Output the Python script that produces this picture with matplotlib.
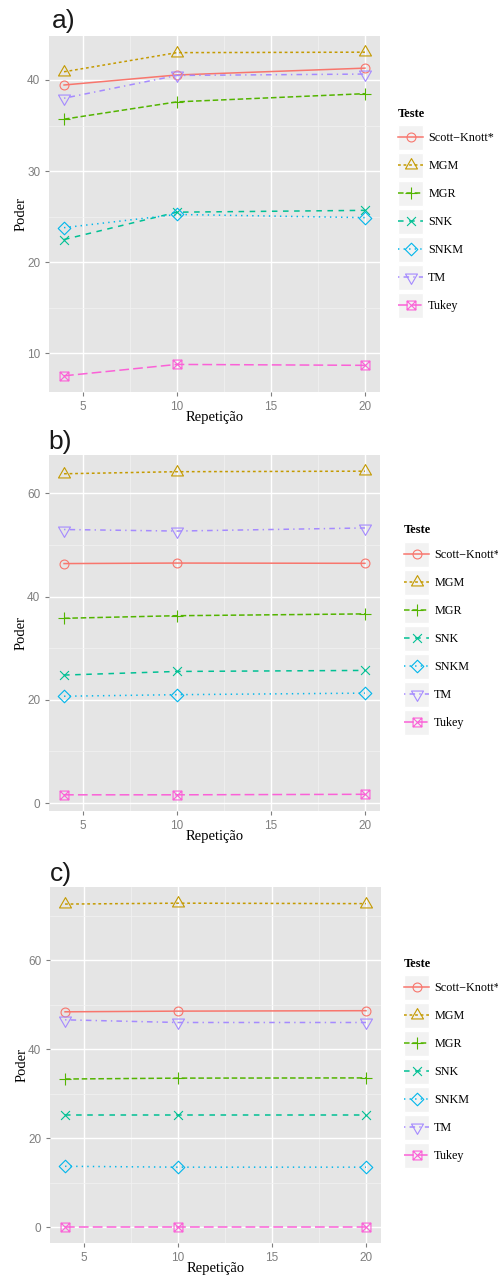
import numpy as np
import matplotlib
matplotlib.use('Agg')
import matplotlib.pyplot as plt
from matplotlib.lines import Line2D
from matplotlib.patches import Rectangle
from matplotlib.path import Path
from matplotlib.legend_handler import HandlerBase
from matplotlib.ticker import MultipleLocator

plt.rcParams['lines.scale_dashes'] = False

# dados
repeticao = [4, 10, 20]
testes = ['Scott−Knott*', 'MGM', 'MGR', 'SNK', 'SNKM', 'TM', 'Tukey']
paineis = ['a)', 'b)', 'c)']

# poder por teste, mesma ordem de "testes"
poder_a = [
    [39.45, 40.55, 41.3],
    [40.9, 43.0, 43.05],
    [35.7, 37.6, 38.5],
    [22.5, 25.5, 25.7],
    [23.8, 25.25, 24.9],
    [38.0, 40.5, 40.65],
    [7.55, 8.8, 8.7],
]
poder_b = [
    [46.4, 46.5, 46.45],
    [63.8, 64.2, 64.3],
    [35.8, 36.3, 36.65],
    [24.8, 25.5, 25.7],
    [20.7, 21.0, 21.3],
    [53.0, 52.7, 53.3],
    [1.6, 1.6, 1.7],
]
poder_c = [
    [48.4, 48.55, 48.65],
    [72.6, 72.8, 72.7],
    [33.3, 33.5, 33.55],
    [25.3, 25.3, 25.3],
    [13.7, 13.5, 13.5],
    [46.6, 46.0, 46.0],
    [0.1, 0.1, 0.1],
]
passo_y = [10, 20, 20]

# estilo ggplot
cores = ['#F8766D', '#C49A00', '#53B400', '#00C094', '#00B6EB', '#A58AFF', '#FB61D7']
tracos = ['-', (0, (2, 2)), (0, (4, 2)), (0, (4, 4)), (0, (1, 3)), (0, (1, 3, 4, 3)), (0, (7, 3))]

M, L, C = Path.MOVETO, Path.LINETO, Path.CLOSEPOLY
s2 = np.sqrt(2)
t0 = np.sqrt(4 * np.pi / (3 * np.sqrt(3)))
tri_up = Path([(0, t0), (-t0 * 0.866, -t0 / 2), (t0 * 0.866, -t0 / 2), (0, t0)], [M, L, L, C])
tri_dn = Path([(0, -t0), (-t0 * 0.866, t0 / 2), (t0 * 0.866, t0 / 2), (0, -t0)], [M, L, L, C])
plus = Path([(-s2, 0), (s2, 0), (0, -s2), (0, s2)], [M, L, M, L])
cruz = Path([(-1, -1), (1, 1), (-1, 1), (1, -1)], [M, L, M, L])
losango = Path([(-s2, 0), (0, s2), (s2, 0), (0, -s2), (-s2, 0)], [M, L, L, L, C])
caixa = Path([(-1, -1), (1, -1), (1, 1), (-1, 1), (-1, -1), (-1, -1), (1, 1), (-1, 1), (1, -1)],
             [M, L, L, L, C, M, L, M, L])
marcas = ['o', tri_up, plus, cruz, losango, tri_dn, caixa]
raio = 3.2
tamanhos = [2 * raio] + [2 * raio * np.abs(p.vertices).max() for p in marcas[1:]]


class ChaveGG(HandlerBase):
    # chave da legenda com fundo cinza como no ggplot
    def create_artists(self, legend, orig, xdescent, ydescent, width, height, fontsize, trans):
        yc = 0.33 * fontsize
        x0 = -xdescent
        box = Rectangle((x0, yc - width / 2), width, width, facecolor='#F2F2F2',
                        edgecolor='white', lw=1.0, transform=trans)
        linha = Line2D([x0, x0 + width], [yc, yc])
        linha.update_from(orig)
        linha.set_marker('none')
        ponto = Line2D([x0 + width / 2], [yc])
        ponto.update_from(orig)
        ponto.set_linestyle('none')
        for a in (linha, ponto):
            a.set_clip_box(None)
            a.set_clip_path(None)
            a.set_transform(trans)
        return [box, linha, ponto]


W, H = 498, 1280
fig = plt.figure(figsize=(W / 100, H / 100), dpi=100)

caixas = [(49, 36, 380, 392), (49, 455, 380, 811), (50, 887, 381, 1243)]
legendas = [(398, 222, 117), (404, 639, 533), (404, 1072, 967)]
rotulos = [(52, 28), (48, 449), (50, 881)]

serif = ['Liberation Serif', 'DejaVu Serif']
sans = ['Liberation Sans', 'DejaVu Sans']

for k, dados in enumerate([poder_a, poder_b, poder_c]):
    l, t, r, b = caixas[k]
    ax = fig.add_axes([l / W, 1 - b / H, (r - l) / W, (b - t) / H])
    ax.set_facecolor('#E5E5E5')
    for s in ax.spines.values():
        s.set_visible(False)

    handles = []
    for i, nome in enumerate(testes):
        h, = ax.plot(repeticao, dados[i], color=cores[i], linestyle=tracos[i], lw=1.1,
                     marker=marcas[i], markersize=tamanhos[i], markerfacecolor='none',
                     markeredgecolor=cores[i], markeredgewidth=0.8, label=nome, zorder=3)
        handles.append(h)

    # escalas com expansao de 5% como no ggplot
    xs = np.array(repeticao, dtype=float)
    dx = (xs.max() - xs.min()) * 0.05
    ax.set_xlim(xs.min() - dx, xs.max() + dx)
    ys = np.array(dados, dtype=float)
    dy = (ys.max() - ys.min()) * 0.05
    ax.set_ylim(ys.min() - dy, ys.max() + dy)

    ax.xaxis.set_major_locator(MultipleLocator(5))
    ax.xaxis.set_minor_locator(MultipleLocator(2.5))
    ax.yaxis.set_major_locator(MultipleLocator(passo_y[k]))
    ax.yaxis.set_minor_locator(MultipleLocator(passo_y[k] / 2))
    ax.grid(which='major', color='white', lw=1.0, zorder=0)
    ax.grid(which='minor', color='#F2F2F2', lw=0.5, zorder=0)
    ax.set_axisbelow(True)
    ax.tick_params(which='major', length=3, width=0.8, color='#7F7F7F', pad=3.2,
                   labelsize=8.5, labelcolor='#7F7F7F')
    ax.tick_params(which='minor', length=0)
    for lab in ax.get_xticklabels() + ax.get_yticklabels():
        lab.set_family(sans)

    ax.set_xlabel('Repetição', family=serif, fontsize=10.5, va='top')
    ax.xaxis.set_label_coords(0.5, -0.052)
    ax.set_ylabel('Poder', family=serif, fontsize=10.5)
    ax.yaxis.set_label_coords(-0.066, 0.5)

    lx, lcy, tb = legendas[k]
    fig.text(lx / W, 1 - tb / H, 'Teste', family=serif, fontweight='bold', fontsize=9,
             va='baseline', ha='left')
    ax.legend(handles=handles, handler_map={Line2D: ChaveGG()}, loc='center left',
              bbox_to_anchor=(lx / W, 1 - lcy / H), bbox_transform=fig.transFigure,
              frameon=False, borderpad=0, borderaxespad=0, handlelength=2.1,
              handleheight=1.0, handletextpad=0.4, labelspacing=1.28,
              prop={'family': serif, 'size': 8.7})

    rx, ry = rotulos[k]
    fig.text(rx / W, 1 - ry / H, paineis[k], family=sans, fontsize=19,
             va='baseline', ha='left', color='#1A1A1A')

fig.savefig('out.png', dpi=100, facecolor='white')
